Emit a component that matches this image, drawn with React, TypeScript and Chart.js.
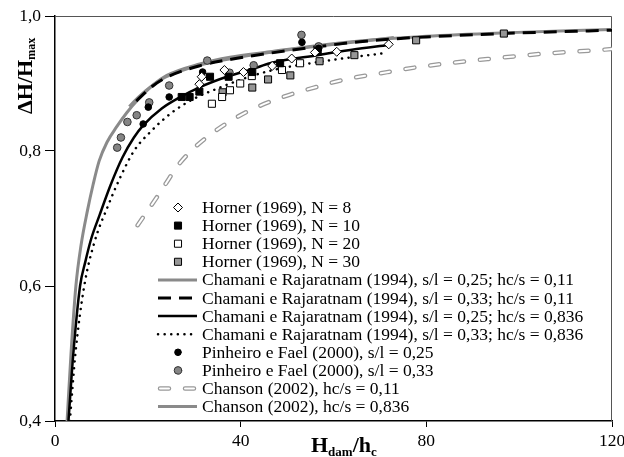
import React, { useEffect, useRef } from 'react';
import { Chart, registerables } from 'chart.js';

Chart.register(...registerables);

// ---------- axis ticks ----------
const X_TICKS = [0, 40, 80, 120];
const Y_TICKS = [0.4, 0.6, 0.8, 1.0];

// ---------- experimental points ----------
const hornerN8 = [[31.1, 0.899], [31.6, 0.91], [36.5, 0.92], [40.6, 0.917], [46.8, 0.926], [51, 0.937], [56, 0.946], [60.7, 0.947], [71.9, 0.958]];
const hornerN10 = [[27.3, 0.88], [29, 0.88], [31.1, 0.888], [33.4, 0.91], [37.4, 0.91], [42.5, 0.917], [48.5, 0.93], [56.6, 0.947]];
const hornerN20 = [[33.8, 0.87], [36, 0.88], [37.7, 0.89], [39.9, 0.9], [42.4, 0.911], [48.9, 0.92], [52.8, 0.93]];
const hornerN30 = [[36.1, 0.887], [42.5, 0.894], [45.9, 0.906], [50.7, 0.912], [57, 0.933], [64.5, 0.942], [77.8, 0.964], [96.7, 0.974]];
const pinheiro025 = [[19, 0.84], [20.1, 0.865], [24.6, 0.88], [31.8, 0.917], [53.2, 0.961], [56.8, 0.952]];
const pinheiro033 = [[13.4, 0.805], [14.2, 0.82], [15.6, 0.843], [17.6, 0.853], [20.3, 0.872], [24.6, 0.897], [32.8, 0.934], [37.6, 0.916], [42.8, 0.927], [53.1, 0.972], [56.8, 0.955]];

// ---------- curves ----------
const chamani025_011 = [[16, 0.866], [18, 0.88], [21, 0.897], [24, 0.91], [31, 0.927], [38, 0.937], [46.3, 0.946], [55, 0.954], [65, 0.962], [73, 0.968]];
const chamani033_011 = [[17.5, 0.874], [21, 0.896], [24, 0.909], [31, 0.926], [38, 0.936], [46.3, 0.945], [55, 0.953], [65.7, 0.962], [75, 0.967], [80, 0.969], [96.5, 0.974], [120, 0.979]];
const chamani025_0836 = [[2.9, 0.40], [3.95, 0.50], [5.4, 0.60], [6.5, 0.635], [7.8, 0.67], [9.6, 0.705], [12, 0.75], [14.5, 0.79], [17, 0.82], [19, 0.838], [23, 0.863], [27, 0.88], [31, 0.894], [37, 0.91], [42.8, 0.922], [46.3, 0.93], [56.5, 0.942], [64, 0.95], [71.8, 0.957]];
const chamani033_0836 = [[3.2, 0.40], [4.4, 0.50], [6.3, 0.60], [8.5, 0.665], [11.5, 0.72], [14, 0.76], [17, 0.80], [20.5, 0.828], [25, 0.856], [29.8, 0.877], [34.8, 0.892], [41, 0.908], [47, 0.92], [55, 0.93], [63, 0.938], [71.1, 0.945]];
const chanson011 = [[17.8, 0.69], [19.5, 0.707], [21.9, 0.731], [24, 0.753], [26.2, 0.776], [29, 0.798], [31.9, 0.816], [36.3, 0.838], [41.3, 0.858], [46.3, 0.873], [51.3, 0.885], [56.4, 0.895], [61.8, 0.905], [70, 0.915], [77.9, 0.924], [86, 0.931], [94.4, 0.937], [105, 0.944], [116, 0.949], [120, 0.951]];
const chanson0836 = [[2.6, 0.40], [3.45, 0.50], [4.5, 0.60], [5.6, 0.66], [7.0, 0.712], [8.2, 0.75], [9.5, 0.785], [11.2, 0.813], [13.3, 0.836], [15.5, 0.857], [18, 0.877], [21, 0.897], [24.1, 0.912], [31.2, 0.929], [37.7, 0.939], [46.3, 0.947], [55, 0.955], [65.7, 0.963], [80, 0.970], [96.5, 0.975], [120, 0.98]];

const LABELS = [
  'Horner (1969), N = 8',
  'Horner (1969), N = 10',
  'Horner (1969), N = 20',
  'Horner (1969), N = 30',
  'Chamani e Rajaratnam (1994), s/l = 0,25; hc/s = 0,11',
  'Chamani e Rajaratnam (1994), s/l = 0,33; hc/s = 0,11',
  'Chamani e Rajaratnam (1994), s/l = 0,25; hc/s = 0,836',
  'Chamani e Rajaratnam (1994), s/l = 0,33; hc/s = 0,836',
  'Pinheiro e Fael (2000), s/l = 0,25',
  'Pinheiro e Fael (2000), s/l = 0,33',
  'Chanson (2002), hc/s = 0,11',
  'Chanson (2002), hc/s = 0,836',
];

const SERIF = '"Liberation Serif", "Times New Roman", serif';
const GRAY = '#8a8a8a';

const pts = (a: number[][]) => a.map(([x, y]) => ({ x, y }));

const markerDs = (i: number, data: number[][], style: string, r: number, bg: string, border: string) => ({
  label: LABELS[i],
  legendRow: i,
  data: pts(data),
  showLine: false,
  pointStyle: style,
  pointRadius: r,
  pointBackgroundColor: bg,
  pointBorderColor: border,
  pointBorderWidth: 1,
  order: 0,
});

const lineDs = (i: number, data: number[][], color: string, width: number, dash: number[], cap: string, order: number, extra: any = {}) => ({
  label: LABELS[i],
  legendRow: i,
  data: pts(data),
  showLine: true,
  borderColor: color,
  backgroundColor: color,
  borderWidth: width,
  borderDash: dash,
  borderCapStyle: cap,
  cubicInterpolationMode: 'monotone',
  pointRadius: 0,
  fill: false,
  order,
  ...extra,
});

function drawMarker(ctx: CanvasRenderingContext2D, style: string, x: number, y: number, r: number, bg: string, border: string) {
  ctx.save();
  ctx.beginPath();
  if (style === 'circle') {
    ctx.arc(x, y, r, 0, Math.PI * 2);
  } else if (style === 'rect') {
    const s = r * Math.SQRT1_2;
    ctx.rect(x - s, y - s, 2 * s, 2 * s);
  } else {
    ctx.moveTo(x, y - r);
    ctx.lineTo(x + r, y);
    ctx.lineTo(x, y + r);
    ctx.lineTo(x - r, y);
    ctx.closePath();
  }
  ctx.fillStyle = bg;
  ctx.fill();
  ctx.lineWidth = 1;
  ctx.strokeStyle = border;
  ctx.setLineDash([]);
  ctx.stroke();
  ctx.restore();
}

const framePlugin = {
  id: 'frame',
  beforeDatasetsDraw(chart: any) {
    const { ctx, chartArea: a } = chart;
    ctx.save();
    ctx.strokeStyle = '#555';
    ctx.lineWidth = 1;
    ctx.beginPath();
    ctx.moveTo(a.left, a.top + 0.5);
    ctx.lineTo(a.right - 0.5, a.top + 0.5);
    ctx.lineTo(a.right - 0.5, a.bottom);
    ctx.stroke();
    ctx.restore();
  },
};

const legendPlugin = {
  id: 'customLegend',
  afterDatasetsDraw(chart: any) {
    const ctx: CanvasRenderingContext2D = chart.ctx;
    const rowH = 18.1;
    const baseY = 213;
    const symX = 178;
    const lx0 = 158;
    const lx1 = 197;
    const textX = 202;
    ctx.save();
    chart.data.datasets.forEach((ds: any) => {
      if (ds.legendRow === undefined) return;
      const by = baseY + ds.legendRow * rowH;
      const cy = by - 5.5;
      if (!ds.showLine) {
        drawMarker(ctx, ds.pointStyle, symX, cy, ds.pointRadius, ds.pointBackgroundColor, ds.pointBorderColor);
      } else {
        const strokes = ds.hollowInner ? [[ds.borderColor, ds.borderWidth], ['#ffffff', ds.hollowInner]] : [[ds.borderColor, ds.borderWidth]];
        const x0 = ds.hollowInner ? lx0 + 2 : lx0;
        strokes.forEach(([c, w]: any) => {
          ctx.beginPath();
          ctx.strokeStyle = c;
          ctx.lineWidth = w;
          ctx.lineCap = ds.borderCapStyle;
          ctx.setLineDash(ds.borderDash || []);
          ctx.moveTo(x0, cy);
          ctx.lineTo(lx1, cy);
          ctx.stroke();
        });
      }
      ctx.setLineDash([]);
      ctx.font = '17.5px ' + SERIF;
      ctx.fillStyle = '#000';
      ctx.textBaseline = 'alphabetic';
      ctx.textAlign = 'left';
      ctx.fillText(ds.label, textX, by);
    });
    ctx.restore();
  },
};

const titlePlugin = {
  id: 'axisTitles',
  afterDraw(chart: any) {
    const ctx: CanvasRenderingContext2D = chart.ctx;
    const big = 'bold 22px ' + SERIF;
    const small = 'bold 13px ' + SERIF;
    ctx.save();
    ctx.fillStyle = '#000';
    ctx.textBaseline = 'alphabetic';
    ctx.textAlign = 'left';
    // x title
    let x = 311;
    const y = 452;
    ctx.font = big; ctx.fillText('H', x, y); x += ctx.measureText('H').width;
    ctx.font = small; ctx.fillText('dam', x, y + 4); x += ctx.measureText('dam').width;
    ctx.font = big; ctx.fillText('/h', x, y); x += ctx.measureText('/h').width;
    ctx.font = small; ctx.fillText('c', x, y + 4);
    // y title
    ctx.translate(32, 114);
    ctx.rotate(-Math.PI / 2);
    ctx.font = big;
    ctx.fillText('\u0394H/H', 0, 0);
    const w = ctx.measureText('\u0394H/H').width;
    ctx.font = 'bold 12px ' + SERIF;
    ctx.fillText('max', w, 3);
    ctx.restore();
  },
};

export default function App() {
  const ref = useRef<HTMLCanvasElement>(null);
  useEffect(() => {
    document.body.style.margin = '0';
    const datasets: any[] = [
      markerDs(0, hornerN8, 'rectRot', 4.5, '#ffffff', '#000000'),
      markerDs(1, hornerN10, 'rect', 5, '#000000', '#000000'),
      markerDs(2, hornerN20, 'rect', 5, '#ffffff', '#000000'),
      markerDs(3, hornerN30, 'rect', 5, '#969696', '#000000'),
      lineDs(4, chamani025_011, GRAY, 3, [], 'butt', 3),
      lineDs(5, chamani033_011, '#000000', 3, [13, 8], 'butt', 1),
      lineDs(6, chamani025_0836, '#000000', 2.5, [], 'butt', 2),
      lineDs(7, chamani033_0836, '#000000', 2.5, [0.1, 6.5], 'round', 2),
      markerDs(8, pinheiro025, 'circle', 3.3, '#000000', '#000000'),
      markerDs(9, pinheiro033, 'circle', 3.8, '#858585', '#333333'),
      lineDs(10, chanson011, '#999999', 4.5, [9, 16], 'round', 5, { hollowInner: 2 }),
      lineDs(11, chanson0836, GRAY, 3, [], 'butt', 3),
      // white core of the hollow dashes of Chanson (2002), hc/s = 0,11
      {
        data: pts(chanson011),
        showLine: true,
        borderColor: '#ffffff',
        borderWidth: 2,
        borderDash: [9, 16],
        borderCapStyle: 'round',
        cubicInterpolationMode: 'monotone',
        pointRadius: 0,
        order: 4,
      },
    ];

    const chart = new Chart(ref.current as HTMLCanvasElement, {
      type: 'scatter',
      data: { datasets },
      options: {
        animation: false,
        responsive: false,
        events: [],
        layout: { padding: { top: 16, right: 12, left: 0, bottom: 0 } },
        plugins: { legend: { display: false }, tooltip: { enabled: false }, title: { display: false } },
        scales: {
          x: {
            type: 'linear',
            min: 0,
            max: 120,
            afterBuildTicks: (s: any) => { s.ticks = X_TICKS.map((v) => ({ value: v })); },
            afterFit: (s: any) => { s.height = 36; s.paddingLeft = 0; s.paddingRight = 0; },
            ticks: {
              color: '#000',
              font: { family: SERIF, size: 17.5 },
              padding: 4,
              maxRotation: 0,
              callback: (v: any) => String(v),
            },
            grid: { display: true, drawOnChartArea: false, drawTicks: true, tickLength: 6, color: '#000' },
            border: { display: true, color: '#000', width: 1.5 },
          },
          y: {
            type: 'linear',
            min: 0.4,
            max: 1.0,
            afterBuildTicks: (s: any) => { s.ticks = Y_TICKS.map((v) => ({ value: v })); },
            afterFit: (s: any) => { s.width = 55; s.paddingTop = 0; s.paddingBottom = 0; },
            ticks: {
              color: '#000',
              font: { family: SERIF, size: 17.5 },
              padding: 4,
              callback: (v: any) => Number(v).toFixed(1).replace('.', ','),
            },
            grid: { display: true, drawOnChartArea: false, drawTicks: true, tickLength: 10, color: '#000' },
            border: { display: true, color: '#000', width: 1.5 },
          },
        },
      } as any,
      plugins: [framePlugin, legendPlugin, titlePlugin],
    });
    return () => chart.destroy();
  }, []);
  return (
    <div style={{ width: 624, height: 457 }}>
      <canvas ref={ref} width={624} height={457} style={{ display: 'block' }} />
    </div>
  );
}
